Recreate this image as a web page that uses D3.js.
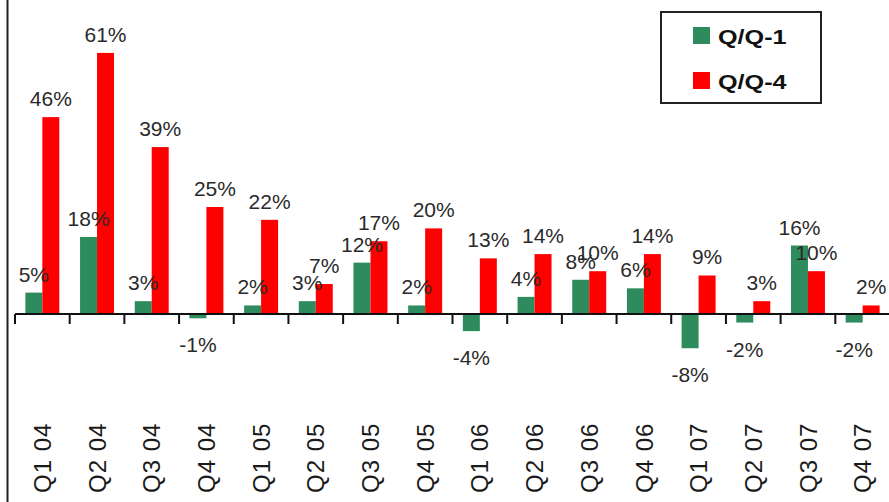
<!DOCTYPE html>
<html>
<head>
<meta charset="utf-8">
<script src="https://cdn.jsdelivr.net/npm/d3@7"></script>
<style>
  body { margin: 0; background: #fff; }
  svg { display: block; font-family: "Liberation Sans", Arial, sans-serif; }
</style>
</head>
<body>
<svg id="chart" width="889" height="502"></svg>
<script>
const quarters = ["Q1 04", "Q2 04", "Q3 04", "Q4 04", "Q1 05", "Q2 05", "Q3 05", "Q4 05",
                  "Q1 06", "Q2 06", "Q3 06", "Q4 06", "Q1 07", "Q2 07", "Q3 07", "Q4 07"];
const seriesNames = ["Q/Q-1", "Q/Q-4"];
const qq1 = [5, 18, 3, -1, 2, 3, 12, 2, -4, 4, 8, 6, -8, -2, 16, -2];
const qq4 = [46, 61, 39, 25, 22, 7, 17, 20, 13, 14, 10, 14, 9, 3, 10, 2];
const colors = ["#2e8b5e", "#ff0000"];

const W = 889, H = 502;
const svg = d3.select("#chart");

const data = quarters.map((q, i) => ({ q, values: [qq1[i], qq4[i]] }));

const x0 = d3.scaleBand().domain(quarters).range([15, 890]);
const x1 = d3.scaleBand().domain(seriesNames).range([0, x0.bandwidth()]).paddingOuter(0.61);
const y = d3.scaleLinear().domain([-10, 70]).range([356.8, 14.4]);
const color = d3.scaleOrdinal().domain(seriesNames).range(colors);

// left frame line
svg.append("line")
    .attr("x1", 7.5).attr("x2", 7.5)
    .attr("y1", 0).attr("y2", H)
    .attr("stroke", "#222").attr("stroke-width", 2);

// bars
const groups = svg.selectAll(".grp")
    .data(data)
    .join("g")
    .attr("class", "grp")
    .attr("transform", d => `translate(${x0(d.q)},0)`);

groups.selectAll("rect")
    .data(d => d.values.map((v, i) => ({ s: seriesNames[i], v })))
    .join("rect")
    .attr("x", d => x1(d.s))
    .attr("width", x1.bandwidth())
    .attr("y", d => y(Math.max(0, d.v)))
    .attr("height", d => Math.abs(y(d.v) - y(0)))
    .attr("fill", d => color(d.s));

// baseline and ticks
svg.append("line")
    .attr("x1", x0.range()[0]).attr("x2", W)
    .attr("y1", y(0)).attr("y2", y(0))
    .attr("stroke", "#111").attr("stroke-width", 2);

svg.selectAll(".tick")
    .data(quarters)
    .join("line")
    .attr("class", "tick")
    .attr("x1", d => x0(d)).attr("x2", d => x0(d))
    .attr("y1", y(0)).attr("y2", y(0) + 10)
    .attr("stroke", "#111").attr("stroke-width", 2);

// value labels
groups.selectAll("text.val")
    .data(d => d.values.map((v, i) => ({ s: seriesNames[i], v })))
    .join("text")
    .attr("class", "val")
    .attr("x", d => x1(d.s) + x1.bandwidth() / 2)
    .attr("y", d => d.v >= 0 ? y(d.v) - 11 : y(d.v) + 34)
    .attr("text-anchor", "middle")
    .attr("font-size", 21)
    .attr("fill", "#2a2a2a")
    .text(d => d.v + "%");

// category labels (rotated)
svg.selectAll(".cat")
    .data(quarters)
    .join("text")
    .attr("class", "cat")
    .attr("transform", d => `translate(${x0(d) + x0.bandwidth() / 2},493) rotate(-90)`)
    .attr("dy", "0.36em")
    .attr("font-size", 24)
    .attr("letter-spacing", 1)
    .attr("fill", "#1a1a1a")
    .text(d => d);

// legend
const lg = svg.append("g").attr("transform", "translate(661,12)");
lg.append("rect")
    .attr("width", 160).attr("height", 91)
    .attr("fill", "#fff").attr("stroke", "#222").attr("stroke-width", 2);

const items = lg.selectAll(".item")
    .data(seriesNames)
    .join("g")
    .attr("class", "item")
    .attr("transform", (d, i) => `translate(32,${15 + i * 45})`);

items.append("rect")
    .attr("width", 17).attr("height", 17)
    .attr("fill", d => color(d));

items.append("text")
    .attr("transform", "translate(25,17) scale(1.2,1)")
    .attr("font-size", 21)
    .attr("font-weight", "bold")
    .attr("fill", "#111")
    .text(d => d);
</script>
</body>
</html>
